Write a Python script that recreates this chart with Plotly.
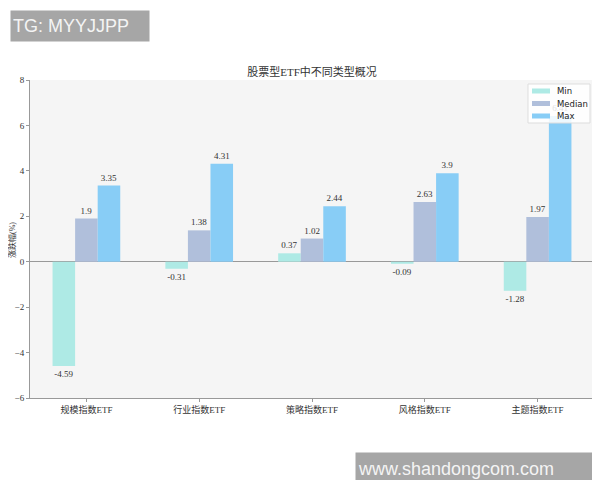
import plotly.graph_objects as go

categories = ["规模指数ETF", "行业指数ETF", "策略指数ETF", "风格指数ETF", "主题指数ETF"]
min_vals = [-4.59, -0.31, 0.37, -0.09, -1.28]
median_vals = [1.9, 1.38, 1.02, 2.63, 1.97]
max_vals = [3.35, 4.31, 2.44, 3.9, 6.41]
series_names = ["Min", "Median", "Max"]
colors = ["#aeeae5", "#b0bfdb", "#88cdf6"]
y_ticks = [-6, -4, -2, 0, 2, 4, 6, 8]

serif = "Liberation Serif, Noto Sans CJK SC, serif"

fig = go.Figure()
for name, vals, col in zip(series_names, [min_vals, median_vals, max_vals], colors):
    fig.add_trace(go.Bar(
        x=categories, y=vals, name=name, marker=dict(color=col, line=dict(width=0)),
        text=[str(v) for v in vals], textposition="outside", cliponaxis=False,
        textfont=dict(family=serif, size=9, color="#333333"),
        showlegend=False,
    ))

# page body has an 8px margin: express target pixel positions in figure coords
OFF = 8
W, H = 600 - OFF, 480 - OFF
L, R, T, B = 30 - OFF, 594 - OFF, 80 - OFF, 398 - OFF
pw, ph = R - L, B - T

def px(x):
    return (x - OFF - L) / pw

def py(y):
    return (B - (y - OFF)) / ph

fig.update_layout(
    width=W, height=H,
    margin=dict(l=L, r=W - R, t=T, b=H - B, autoexpand=False),
    paper_bgcolor="white", plot_bgcolor="#f5f5f5",
    barmode="group", bargap=0.4, bargroupgap=0,
    title=dict(text="股票型ETF中不同类型概况", x=0.5, xref="paper", y=1 - (72 - OFF) / H,
               yanchor="middle", xanchor="center",
               font=dict(family=serif, size=11, color="#333333")),
    xaxis=dict(showline=True, linecolor="#999999", linewidth=1, ticks="outside",
               ticklen=3, tickcolor="#999999", showgrid=False, automargin=False,
               tickfont=dict(family=serif, size=9, color="#333333")),
    yaxis=dict(range=[-6, 8], tickvals=y_ticks, showline=True, linecolor="#999999",
               linewidth=1, ticks="outside", ticklen=3, tickcolor="#999999",
               showgrid=False, zeroline=True, zerolinecolor="#999999", zerolinewidth=1,
               automargin=False,
               tickfont=dict(family=serif, size=9, color="#333333")),
    showlegend=False,
)

# legend box (matplotlib-style compact legend)
fig.add_shape(type="rect", xref="paper", yref="paper", layer="above",
              x0=px(528), x1=px(590), y0=py(123), y1=py(84),
              fillcolor="rgba(255,255,255,0.85)", line=dict(color="#dddddd", width=1))
for i, (name, col) in enumerate(zip(series_names, colors)):
    yc = 91 + i * 12.5
    fig.add_shape(type="rect", xref="paper", yref="paper", layer="above",
                  x0=px(532), x1=px(550), y0=py(yc + 2.5), y1=py(yc - 2.5),
                  fillcolor=col, line=dict(width=0))
    fig.add_annotation(text=name, xref="paper", yref="paper", x=px(555), y=py(yc),
                       xanchor="left", yanchor="middle", showarrow=False,
                       font=dict(family="DejaVu Sans, sans-serif", size=8.5, color="#222222"))

fig.add_annotation(
    text="涨跌幅(%)", xref="paper", yref="paper", x=px(12), y=py(240),
    xanchor="center", yanchor="middle", showarrow=False, textangle=-90,
    font=dict(family=serif, size=8, color="#333333"),
)
fig.add_annotation(
    text="TG: MYYJJPP", xref="paper", yref="paper", x=px(10), y=py(10),
    xanchor="left", yanchor="top", showarrow=False, align="left",
    width=134, height=26, bgcolor="#a6a6a6", borderpad=2,
    font=dict(family="Liberation Sans, Arial, sans-serif", size=18, color="#f4f4f4"),
)
fig.add_annotation(
    text="www.shandongcom.com", xref="paper", yref="paper", x=px(355), y=py(452),
    xanchor="left", yanchor="top", showarrow=False, align="left",
    width=234, height=28, bgcolor="#a6a6a6", borderpad=2,
    font=dict(family="Liberation Sans, Arial, sans-serif", size=18, color="#f4f4f4"),
)

fig.write_html("out.html")
